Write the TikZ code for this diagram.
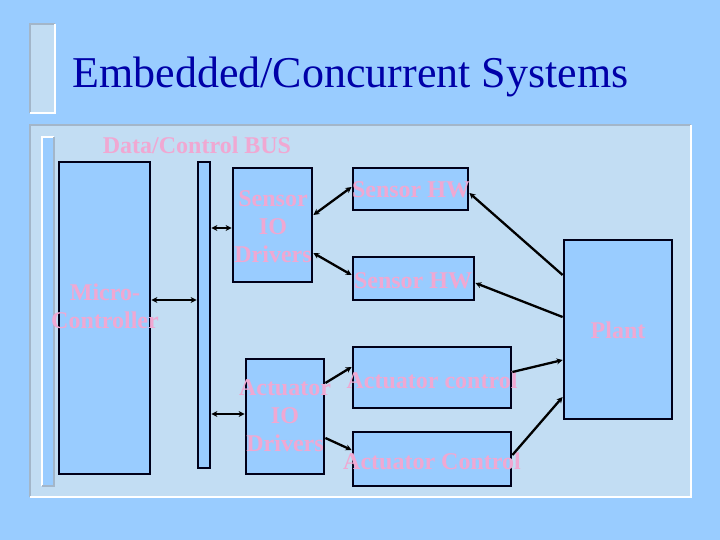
\documentclass[tikz,border=0pt]{standalone}
\usepackage{fontspec}
\setmainfont{Liberation Serif}
\usetikzlibrary{arrows.meta}
\definecolor{bg}{HTML}{99CCFF}
\definecolor{panel}{HTML}{C2DDF3}
\definecolor{edgegray}{HTML}{A3B6C9}
\definecolor{ttl}{HTML}{0000A8}
\definecolor{pinkt}{HTML}{F0A8D2}
\begin{document}
\begin{tikzpicture}[x=1pt,y=-1pt,
  box/.style={draw=black!90!blue, line width=2.8pt, fill=bg, inner sep=0pt},
  lbl/.style={text=pinkt, font=\bfseries\fontsize{24}{28}\selectfont, align=center, inner sep=0pt},
  link/.style={line width=2.3pt, draw=black},
  dar/.style={link, {Stealth[length=6pt,width=6pt]}-{Stealth[length=6pt,width=6pt]}},
  sar/.style={link, -{Stealth[length=6pt,width=6pt]}}]
% background and bounding box
\fill[bg] (0,0) rectangle (720,540);
\useasboundingbox (0,0) rectangle (720,540);
% title bar decoration
\fill[panel] (30,24) rectangle (55,113);
\draw[edgegray, line width=2pt] (30,113) -- (30,24) -- (55,24);
\draw[white, line width=2pt] (55,24) -- (55,113) -- (30,113);
% title
\node[anchor=base, text=ttl, font=\fontsize{44}{50}\selectfont, inner sep=0pt] (title) at (350.5,88) {Embedded/Concurrent Systems};
% content panel
\fill[panel] (30,125) rectangle (691,497);
\draw[edgegray, line width=2pt] (30,497) -- (30,125) -- (691,125);
\draw[white, line width=2pt] (691,125) -- (691,497) -- (30,497);
% inner bar decoration
\fill[bg] (42,137) rectangle (54,486);
\draw[white, line width=1.5pt] (42,486) -- (42,137) -- (54,137);
\draw[edgegray, line width=1.5pt] (54,137) -- (54,486) -- (42,486);
% bus label
\node[lbl] (buslbl) at (197,145) {Data/Control BUS};
% boxes
\node[box, minimum width=91pt, minimum height=312pt] (mc) at (104.5,318) {};
\node[box, minimum width=12pt, minimum height=306pt] (bus) at (204,315) {};
\node[box, minimum width=79pt, minimum height=114pt] (sio) at (272.5,225) {};
\node[box, minimum width=115pt, minimum height=42pt] (shw1) at (410.5,189) {};
\node[box, minimum width=121pt, minimum height=43pt] (shw2) at (413.5,278.5) {};
\node[box, minimum width=78pt, minimum height=115pt] (aio) at (285,416.5) {};
\node[box, minimum width=158pt, minimum height=61pt] (ac1) at (432,377.5) {};
\node[box, minimum width=158pt, minimum height=54pt] (ac2) at (432,459) {};
\node[box, minimum width=108pt, minimum height=179pt] (plant) at (618,329.5) {};
% labels
\node[lbl] (mcl) at (105,306) {Micro-\\Controller};
\node[lbl] (siol) at (273,227) {Sensor\\IO\\Drivers};
\node[lbl] (shw1l) at (411,190) {Sensor HW};
\node[lbl] (shw2l) at (413,281) {Sensor HW};
\node[lbl] (aiol) at (285,416) {Actuator\\IO\\Drivers};
\node[lbl] (ac1l) at (432,380) {Actuator control};
\node[lbl] (ac2l) at (432,461) {Actuator Control};
\node[lbl] (plantl) at (618,330) {Plant};
% connectors
\draw[dar] (mc.east |- 0,300) -- (bus.west |- 0,300);
\draw[dar] (bus.east |- 0,228) -- (sio.west |- 0,228);
\draw[dar] (bus.east |- 0,414) -- (aio.west |- 0,414);
\draw[dar] (sio.east |- 0,215) -- (shw1.west |- 0,187);
\draw[dar] (sio.east |- 0,253) -- (shw2.west |- 0,275);
\draw[sar] (aio.east |- 0,383) -- (ac1.west |- 0,367);
\draw[sar] (aio.east |- 0,438) -- (ac2.west |- 0,450);
\draw[sar] (plant.west |- 0,275) -- (shw1.east |- 0,193);
\draw[sar] (plant.west |- 0,317) -- (shw2.east |- 0,283);
\draw[sar] (ac1.east |- 0,372) -- (plant.west |- 0,360);
\draw[sar] (ac2.east |- 0,455) -- (plant.west |- 0,397);
\end{tikzpicture}
\end{document}
